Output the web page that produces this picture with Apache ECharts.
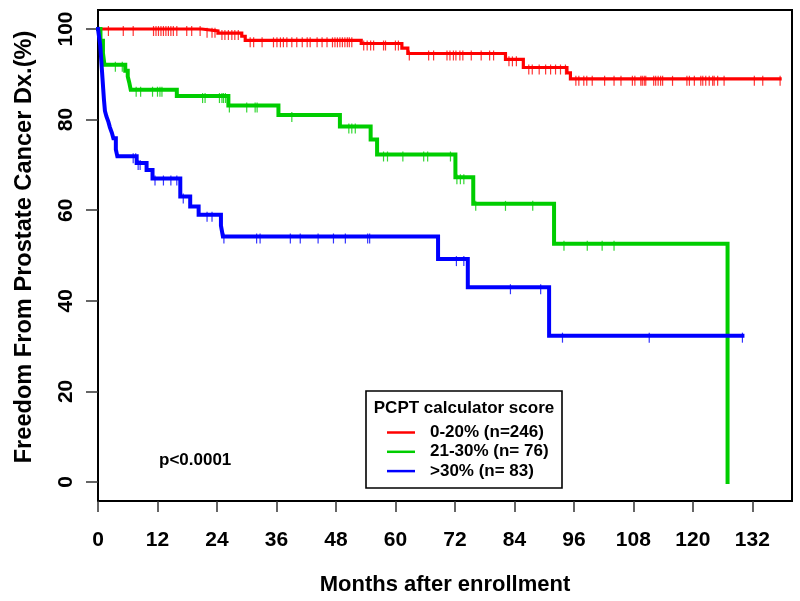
<!DOCTYPE html>
<html>
<head>
<meta charset="utf-8">
<script src="https://cdn.jsdelivr.net/npm/echarts@6/dist/echarts.min.js"></script>
<style>
html,body{margin:0;padding:0;background:#fff;}
#chart{width:800px;height:601px;}
</style>
</head>
<body>
<div id="chart"></div>
<script>
// ---- data ----
const xTicks = [0, 12, 24, 36, 48, 60, 72, 84, 96, 108, 120, 132];
const yTicks = [0, 20, 40, 60, 80, 100];

const seriesNames = ['0-20% (n=246)', '21-30% (n= 76)', '>30% (n= 83)'];

// red: event times (months) and survival (%) after each event
const redTimes = [0, 20.9, 24.2, 29.0, 29.7, 53.1, 61.3, 62.5, 82.2, 85.8, 94.6, 95.3, 137.6];
const redSurv  = [100, 99.6, 99.1, 98.4, 97.5, 96.8, 95.8, 94.6, 93.3, 91.5, 90.3, 89.0, 89.0];
const redCensor = [2.1, 5.1, 7.1, 11.2, 11.7, 12.2, 12.7, 13.2, 13.7, 14.2, 14.7, 15.2, 15.9, 17.9, 18.9, 20.6,
  22.0, 23.0, 23.6, 25.0, 25.6, 26.3, 27.0, 27.6, 28.3, 30.7, 31.4, 33.1, 35.4, 36.1, 36.8, 37.4, 38.1, 39.1,
  40.1, 41.2, 42.2, 42.8, 44.2, 45.2, 46.2, 47.3, 47.8, 48.3, 48.8, 49.3, 49.8, 50.3, 50.7, 51.2,
  53.6, 54.3, 55.0, 55.6, 57.6, 58.0, 60.0, 60.6, 62.8, 66.7, 67.7, 70.4, 71.0, 71.7, 72.2, 73.0, 73.6,
  75.3, 77.3, 79.0, 79.8, 82.9, 83.6, 84.4, 86.9, 87.6, 89.0, 90.3, 91.3, 92.3, 93.3, 94.3,
  96.4, 97.0, 98.0, 98.6, 99.7, 102.2, 104.1, 105.5, 107.8, 108.3, 109.5, 109.8, 110.2, 110.5, 112.1, 112.5,
  113.0, 113.5, 113.9, 115.9, 118.8, 119.3, 120.3, 121.6, 122.0, 122.6, 123.3, 124.0, 124.3, 125.0, 126.3,
  132.4, 134.1, 137.6];

// green
const greenTimes = [0, 0.5, 1.0, 1.3, 5.5, 6.0, 6.3, 6.6, 15.9, 26.3, 36.4, 48.8, 55.0, 56.3, 72.1, 75.7, 92.0, 127.0];
const greenSurv  = [100, 97.4, 94.7, 92.1, 90.8, 89.5, 88.2, 86.6, 85.2, 83.1, 81.0, 78.5, 75.6, 72.3, 67.3, 61.4, 52.6, 0];
const greenCensor = [3.5, 4.9, 7.7, 8.6, 11.0, 12.0, 12.5, 12.9, 21.1, 21.6, 24.5, 25.0, 25.3, 25.7, 26.5,
  30.0, 31.7, 32.1, 39.1, 50.6, 51.2, 51.9, 57.6, 58.4, 61.5, 65.7, 66.5, 71.1, 72.4, 73.1, 73.8,
  76.2, 82.2, 87.7, 94.0, 98.7, 101.7, 104.1];

// blue
const blueTimes = [0, 0.15, 0.3, 0.45, 0.6, 0.75, 0.9, 1.05, 1.2, 1.4, 1.7, 2.1, 2.4, 2.8, 3.1, 3.6, 3.9,
  7.8, 9.8, 11.0, 16.6, 18.6, 20.3, 24.8, 25.2, 68.6, 74.6, 91.0, 130.0];
const blueSurv  = [100, 98.8, 97.6, 96.4, 94.0, 91.6, 89.2, 86.8, 84.4, 81.9, 80.7, 79.5, 78.3, 77.1, 75.9, 73.4, 71.9,
  70.4, 68.9, 67.0, 63.0, 60.8, 59.0, 56.6, 54.2, 49.2, 43.0, 32.3, 32.3];
const blueCensor = [7.1, 7.6, 8.1, 8.5, 11.5, 13.2, 14.7, 15.9, 17.2, 22.0, 23.0, 25.4, 32.0, 32.7, 38.8, 40.8,
  44.4, 47.5, 49.9, 54.4, 54.8, 72.3, 73.8, 83.2, 89.3, 93.7, 111.2, 130.0];

const pText = 'p<0.0001';
const legendTitle = 'PCPT calculator score';
const xTitle = 'Months after enrollment';
const yTitle = 'Freedom From Prostate Cancer Dx.(%)';

// ---- build ----
function levelAt(times, surv, t) {
  let v = surv[0];
  for (let i = 0; i < times.length; i++) { if (times[i] <= t) v = surv[i]; }
  return v;
}
function lineData(times, surv) { return times.map((t, i) => [t, surv[i]]); }
function censorData(times, surv, c) { return c.map(t => [t, levelAt(times, surv, t)]); }

const colors = ['#FF0000', '#00CD00', '#0000FF'];
const widths = [3.2, 4, 4];
const sets = [[redTimes, redSurv, redCensor], [greenTimes, greenSurv, greenCensor], [blueTimes, blueSurv, blueCensor]];

const FONT = "'Liberation Sans', Arial, Helvetica, sans-serif";
const series = [];
sets.forEach((s, k) => {
  series.push({
    name: seriesNames[k], type: 'line', step: 'end', showSymbol: false, symbol: 'none',
    data: lineData(s[0], s[1]), color: colors[k],
    lineStyle: { color: colors[k], width: widths[k], cap: 'square', join: 'miter' },
    z: 3 + k, silent: true
  });
  series.push({
    name: seriesNames[k] + ' censored', type: 'scatter', symbol: 'rect',
    symbolSize: [1.2, 10], symbolOffset: [0, 2],
    itemStyle: { color: colors[k] }, data: censorData(s[0], s[1], s[2]),
    z: 3 + k, silent: true
  });
});

const chart = echarts.init(document.getElementById('chart'), null, { renderer: 'canvas' });
chart.setOption({
  animation: false,
  backgroundColor: '#fff',
  grid: { left: 98, right: 8, top: 10, bottom: 100, show: true, borderColor: '#000', borderWidth: 2,
          backgroundColor: 'transparent', outerBoundsMode: 'none' },
  xAxis: {
    type: 'value', min: 0, max: 140,
    axisLine: { show: false, onZero: false },
    splitLine: { show: false },
    axisTick: { show: true, length: 11, customValues: xTicks, lineStyle: { color: '#333', width: 1.5 } },
    axisLabel: { customValues: xTicks, margin: 29, fontFamily: FONT, fontWeight: 'bold', fontSize: 21, color: '#000' },
    name: xTitle, nameLocation: 'middle', nameGap: 73,
    nameTextStyle: { fontFamily: FONT, fontWeight: 'bold', fontSize: 22, color: '#000' }
  },
  yAxis: {
    type: 'value', min: -4.2, max: 104.2,
    axisLine: { show: false, onZero: false },
    splitLine: { show: false },
    axisTick: { show: true, length: 12, customValues: yTicks, lineStyle: { color: '#333', width: 1.5 } },
    axisLabel: { customValues: yTicks, rotate: 90, margin: 21, fontFamily: FONT, fontWeight: 'bold', fontSize: 21, color: '#000' }
  },
  legend: {
    data: seriesNames, orient: 'vertical', left: 387, top: 424, padding: 0, z: 20,
    icon: 'rect', itemWidth: 28, itemHeight: 2.5, itemGap: 2.3, selectedMode: false,
    textStyle: { fontFamily: FONT, fontWeight: 'bold', fontSize: 17, color: '#000', lineHeight: 17, padding: [0, 0, 0, 10] }
  },
  graphic: [
    { type: 'rect', shape: { x: 366, y: 391, width: 196, height: 97 }, style: { fill: '#fff', stroke: '#000', lineWidth: 1.6 }, z: 1, silent: true },
    { type: 'text', x: 464, y: 408, style: { text: legendTitle, font: "bold 17px " + FONT, fill: '#000', align: 'center', verticalAlign: 'middle' }, z: 21, silent: true },
    { type: 'text', x: 159, y: 460, style: { text: pText, font: "bold 17px " + FONT, fill: '#000', align: 'left', verticalAlign: 'middle' }, z: 21, silent: true },
    { type: 'text', x: 24, y: 247, rotation: Math.PI / 2, style: { text: yTitle, font: "bold 23.6px " + FONT, fill: '#000', align: 'center', verticalAlign: 'middle' }, z: 21, silent: true }
  ],
  series: series
});
</script>
</body>
</html>
